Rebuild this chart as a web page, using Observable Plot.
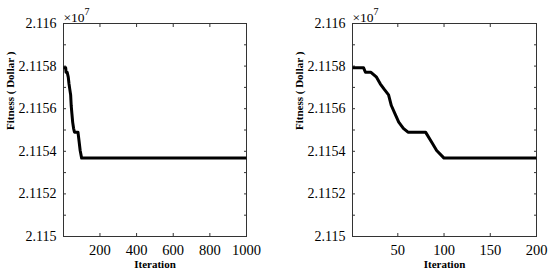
<!DOCTYPE html>
<html>
<head>
<meta charset="utf-8">
<script src="https://cdn.jsdelivr.net/npm/d3@7"></script>
<script src="https://cdn.jsdelivr.net/npm/@observablehq/plot@0.6"></script>
<style>
  body { margin: 0; background: #fff; }
  #wrap { display: flex; width: 550px; height: 276px; }
</style>
</head>
<body>
<div id="wrap"></div>
<script>
// Convergence curve (fitness in units of 1e7 dollars)
const iterations = [1, 13, 15, 21, 27, 31, 35, 40, 43, 47, 51, 56, 61, 80, 87, 92, 100, 200, 1000];
const fitness = [2.115792, 2.115792, 2.115771, 2.115771, 2.115748, 2.115717, 2.115693, 2.115665, 2.115615,
                 2.115576, 2.115537, 2.115508, 2.11549, 2.11549, 2.11544, 2.115404, 2.115368, 2.115368, 2.115368];
const yMajorTicks = [2.115, 2.1152, 2.1154, 2.1156, 2.1158, 2.116];
const yMinorTicks = [2.1151, 2.1153, 2.1155, 2.1157, 2.1159];
const xTicksLeft = [200, 400, 600, 800, 1000];
const xTicksRight = [50, 100, 150, 200];
const xMaxLeft = 1000;
const xMaxRight = 200;
const yLabel = "Fitness ( Dollar )";
const xLabel = "Iteration";
const exponentBase = "×10";
const exponentPower = "7";

const FONT = "Liberation Serif, DejaVu Serif, serif";
const rows = iterations.map((it, i) => ({iteration: it, fitness: fitness[i]}));

function chart(xMax, xTicks, marginLeft, marginRight) {
  const data = rows.filter(d => d.iteration <= xMax);
  const fmt = d => String(+d.toFixed(4));
  const svg = Plot.plot({
    width: 275,
    height: 276,
    marginLeft,
    marginRight,
    marginTop: 23,
    marginBottom: 40,
    style: {background: "#fff", color: "#000"},
    x: {domain: [1, xMax]},
    y: {domain: [2.115, 2.116]},
    marks: [
      Plot.axisY(yMajorTicks, {anchor: "left", tickSize: 0, tickPadding: 7, tickFormat: fmt, fontSize: 14, fontFamily: FONT, label: null}),
      Plot.axisY([...yMajorTicks, ...yMinorTicks], {anchor: "left", tickSize: -3, tickFormat: () => "", label: null, stroke: "#333"}),
      Plot.axisY([...yMajorTicks, ...yMinorTicks], {anchor: "right", tickSize: -3, tickFormat: () => "", label: null, stroke: "#333"}),
      Plot.axisX(xTicks, {anchor: "bottom", tickSize: 0, tickPadding: 8, tickFormat: d => String(d), fontSize: 14.5, fontFamily: FONT, label: null}),
      Plot.axisX(xTicks, {anchor: "bottom", tickSize: -3, tickFormat: () => "", label: null, stroke: "#333"}),
      Plot.axisX(xTicks, {anchor: "top", tickSize: -3, tickFormat: () => "", label: null, stroke: "#333"}),
      Plot.frame({stroke: "#333", strokeWidth: 1}),
      Plot.line(data, {x: "iteration", y: "fitness", stroke: "#000", strokeWidth: 3, strokeLinejoin: "round", strokeLinecap: "butt"}),
      Plot.text([xLabel], {frameAnchor: "bottom", dy: 31, fontWeight: "bold", fontSize: 11, fontFamily: FONT}),
      Plot.text([yLabel], {frameAnchor: "left", dx: -53, rotate: -90, fontWeight: "bold", fontSize: 11, fontFamily: FONT}),
      Plot.text([exponentBase], {frameAnchor: "top-left", textAnchor: "start", lineAnchor: "bottom", dy: -2, dx: 0, fontSize: 13.5, fontFamily: FONT}),
      Plot.text([exponentPower], {frameAnchor: "top-left", textAnchor: "start", lineAnchor: "bottom", dy: -9, dx: 21, fontSize: 10, fontFamily: FONT})
    ]
  });
  svg.style.fontFamily = FONT;
  return svg;
}

const wrap = document.getElementById("wrap");
wrap.appendChild(chart(xMaxLeft, xTicksLeft, 63, 29));
wrap.appendChild(chart(xMaxRight, xTicksRight, 77, 14));
</script>
</body>
</html>
